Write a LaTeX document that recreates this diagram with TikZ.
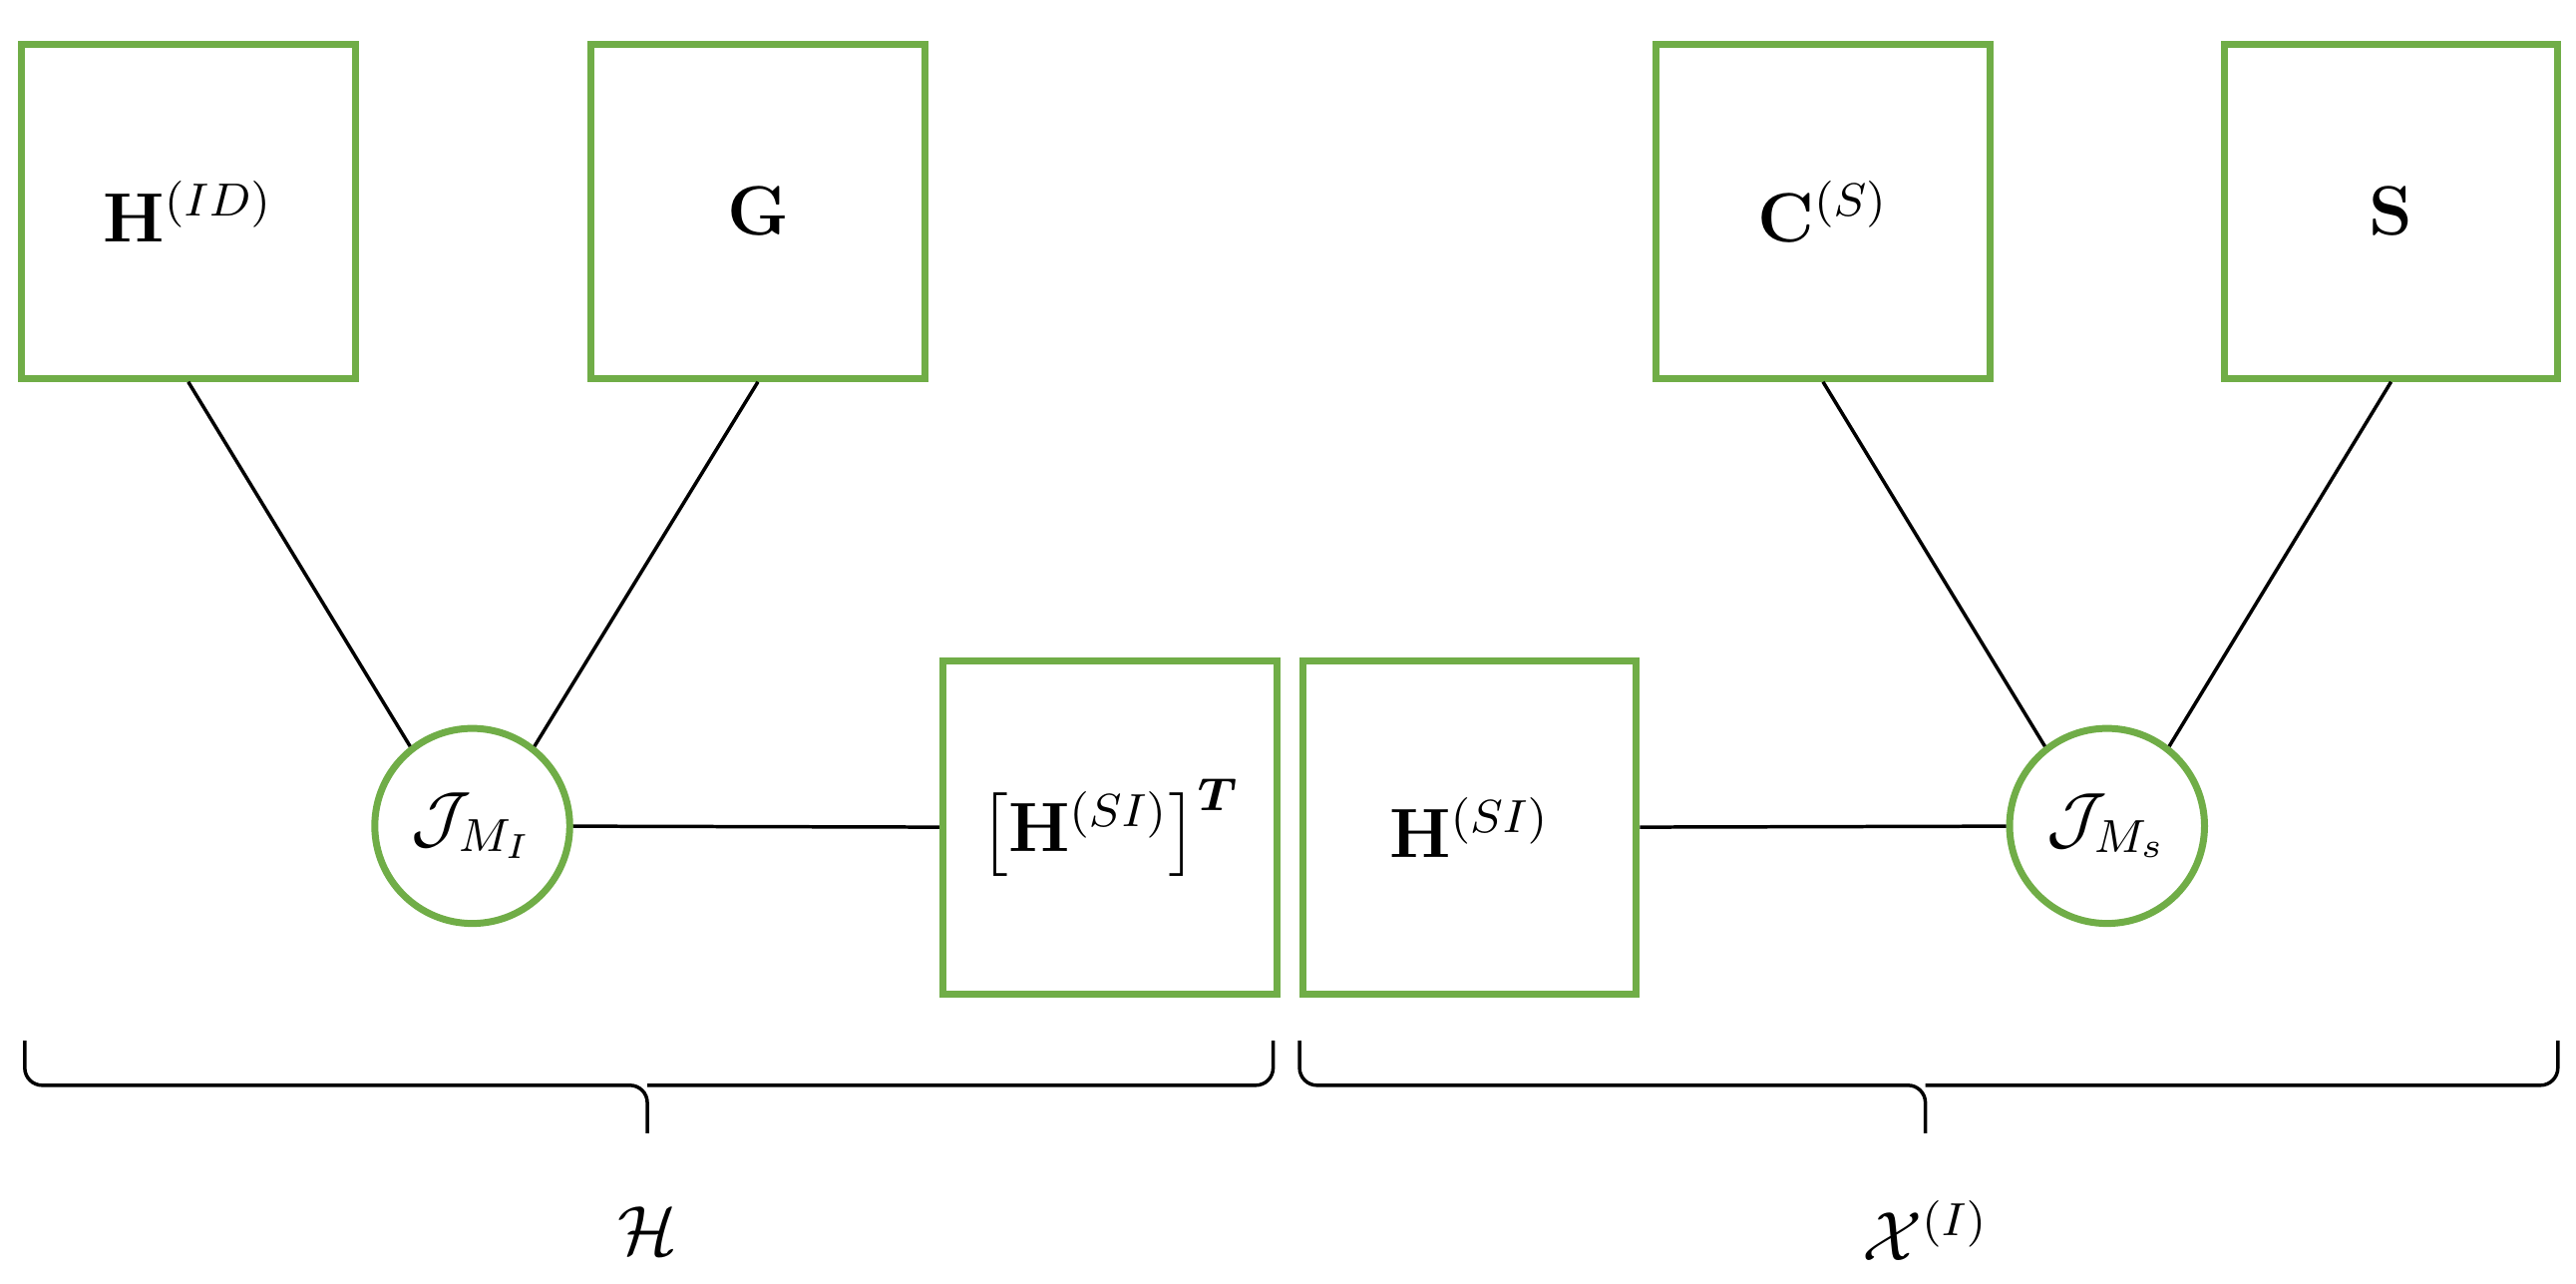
\documentclass[tikz,border=0pt]{standalone}
\usepackage{amsmath,amssymb,bm}
\begin{document}
\begin{tikzpicture}[x=0.01cm,y=-0.01cm,
  box/.style={draw=boxg, line width=1.2pt, minimum width=2.02cm, minimum height=2.02cm, inner sep=0pt, font=\large},
  circ/.style={draw=boxg, circle, line width=1.2pt, minimum size=1.18cm, inner sep=0pt, font=\large},
  ln/.style={line width=0.6pt},
  br/.style={line width=0.6pt, rounded corners=3pt}]
\definecolor{boxg}{RGB}{112,173,71}
\useasboundingbox (0,0) rectangle (1560,777);
\node[box] (h1) at (114,128) {$\mathbf{H}^{(ID)}$};
\node[box] (g) at (459,128) {$\mathbf{G}$};
\node[box] (c) at (1104,128) {$\mathbf{C}^{(S)}$};
\node[box] (s) at (1448,128) {$\mathbf{S}$};
\node[box] (ht) at (672,501) {$\bigl[\mathbf{H}^{(SI)}\bigr]^{\bm{T}}$};
\node[box] (hs) at (890,501) {$\mathbf{H}^{(SI)}$};
\node[circ] (j1) at (286,500) {$\mathcal{J}_{M_I}$};
\node[circ] (j2) at (1276,500) {$\mathcal{J}_{M_s}$};
\draw[ln] (h1.south) -- (j1.128);
\draw[ln] (g.south) -- (j1.52);
\draw[ln] (j1) -- (ht);
\draw[ln] (hs) -- (j2);
\draw[ln] (c.south) -- (j2.128);
\draw[ln] (s.south) -- (j2.52);
\draw[br] (15,630) -- (15,657) -- (392,657) -- (392,686);
\draw[br] (771,630) -- (771,657) -- (392,657);
\draw[br] (787,630) -- (787,657) -- (1166,657) -- (1166,686);
\draw[br] (1549,630) -- (1549,657) -- (1166,657);
\node[font=\large] (lh) at (392,745) {$\mathcal{H}$};
\node[font=\large] (lx) at (1166,745) {$\mathcal{X}^{(I)}$};
\end{tikzpicture}
\end{document}
